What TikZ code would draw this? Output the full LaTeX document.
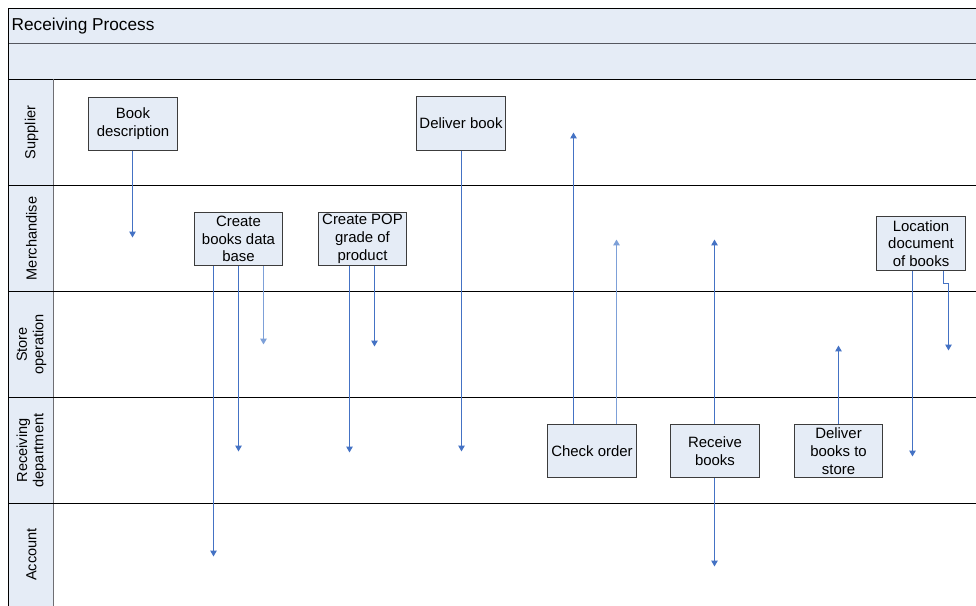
\documentclass[tikz,border=0pt]{standalone}
\usepackage{fontspec}
\setmainfont{Liberation Sans}
\usetikzlibrary{arrows.meta}
\definecolor{paleblue}{RGB}{229,236,246}
\definecolor{flowblue}{RGB}{68,114,196}
\definecolor{flowlight}{RGB}{125,160,216}
\definecolor{boxedge}{RGB}{60,60,60}
\tikzset{
  stepbox/.style={draw=boxedge, line width=1.4pt, fill=paleblue, inner sep=0pt,
    minimum width=89bp, minimum height=53bp, align=center,
    font=\fontsize{15}{17.8}\selectfont},
  lanelabel/.style={rotate=90, align=center, inner sep=0pt,
    font=\fontsize{14.6}{16.5}\selectfont},
  flow/.style={draw=flowblue, line width=1.25pt,
    -{Triangle[width=6.5pt,length=6pt]}},
  flowpale/.style={draw=flowlight, line width=1.7pt,
    -{Triangle[width=6.5pt,length=6pt]}},
  divider/.style={draw=black, line width=1.2pt},
}
\begin{document}
\begin{tikzpicture}[x=1bp, y=-1bp]
\useasboundingbox (0,0) rectangle (976,606);

% half-pixel offset keeps the one-pixel lines crisp
\begin{scope}[xshift=0.5bp, yshift=-0.5bp]
% header bands and label column
\fill[paleblue] (8,8) rectangle (977,79);
\fill[paleblue] (8,79) rectangle (53,607);
\draw[draw={rgb,255:red,85;green,87;blue,95}, line width=2pt] (8,43) -- (977,43);
\draw[black, line width=1.4pt] (8,8) -- (977,8);
\draw[black, line width=1.4pt] (8,79) -- (977,79);
\draw[black, line width=1.4pt] (8,8) -- (8,607);
\draw[draw={rgb,255:red,110;green,110;blue,115}, line width=1.5pt] (53,79) -- (53,607);

% lane dividers
\foreach \yy in {185,291,397,503} {
  \draw[divider] (8,\yy) -- (977,\yy);
}

\node[anchor=west, inner sep=0pt, font=\fontsize{17.3}{19}\selectfont] (title) at (11,26) {Receiving Process};

% lane names
\node[lanelabel] (lsup) at (31,132) {Supplier};
\node[lanelabel] (lmer) at (31,238) {Merchandise};
\node[lanelabel] (lsto) at (31,344) {Store\\operation};
\node[lanelabel] (lrec) at (31,450) {Receiving\\department};
\node[lanelabel] (lacc) at (31,554) {Account};

% process steps
\node[stepbox] (bd)  at (132.5,123.5) {Book\\description};
\node[stepbox, minimum height=54bp] (db)  at (460.5,123) {Deliver book};
\node[stepbox, minimum width=88bp] (cbd) at (238,238.5) {Create\\books data\\base};
\node[stepbox, minimum width=88bp] (pop) at (362,238.5) {Create POP\\grade of\\product};
\node[stepbox] (co)  at (591.5,450.5) {Check order};
\node[stepbox] (rb)  at (714.5,450.5) {Receive\\books};
\node[stepbox, minimum width=88bp] (dbs) at (838,450.5) {Deliver\\books to\\store};
\node[stepbox, minimum height=54bp] (ld)  at (920.5,243) {Location\\document\\of books};

% free ends of the connectors
\coordinate (e1) at (132,237);
\coordinate (e2) at (213,556);
\coordinate (e3) at (238,451);
\coordinate (e4) at (263,344);
\coordinate (e5) at (349,452);
\coordinate (e6) at (374,346);
\coordinate (e7) at (461,451);
\coordinate (e8) at (573,132);
\coordinate (e9) at (616,239);
\coordinate (e10) at (714,239);
\coordinate (e11) at (714,566);
\coordinate (e12) at (838,345);
\coordinate (e13) at (912,456);
\coordinate (e14) at (948,350);
\coordinate (j1) at (943,283);

% connectors
\draw[flow] (bd.south -| e1) -- (e1);
\draw[flow] (cbd.south -| e2) -- (e2);
\draw[flow] (cbd.south -| e3) -- (e3);
\draw[flowpale] (cbd.south -| e4) -- (e4);
\draw[flow] (pop.south -| e5) -- (e5);
\draw[flow] (pop.south -| e6) -- (e6);
\draw[flow] (db.south -| e7) -- (e7);
\draw[flow] (co.north -| e8) -- (e8);
\draw[flowpale] (co.north -| e9) -- (e9);
\draw[flow] (rb.north -| e10) -- (e10);
\draw[flow] (rb.south -| e11) -- (e11);
\draw[flow] (dbs.north -| e12) -- (e12);
\draw[flow] (ld.south -| e13) -- (e13);
\draw[flow] (ld.south -| j1) -- (j1) -| (e14);
\end{scope}
\end{tikzpicture}
\end{document}
